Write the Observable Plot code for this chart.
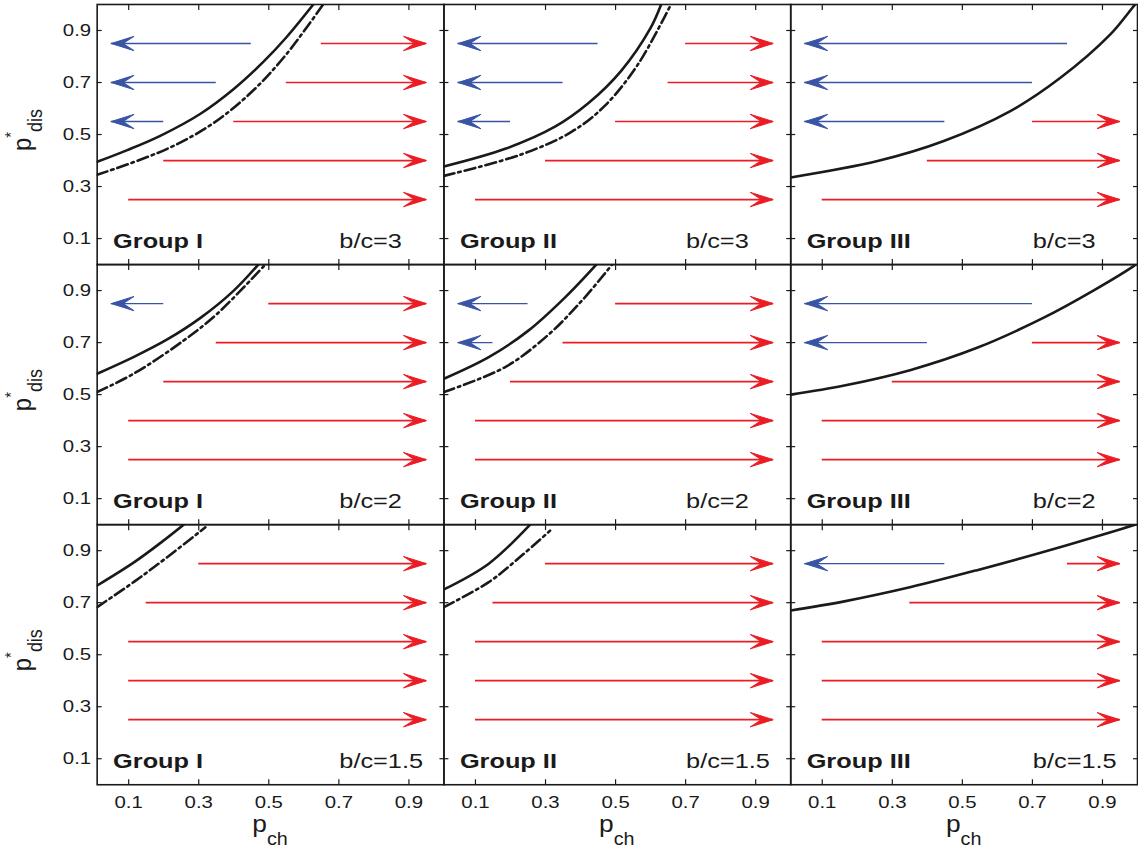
<!DOCTYPE html>
<html>
<head>
<meta charset="utf-8">
<script src="https://cdn.jsdelivr.net/npm/d3@7"></script>
<script src="https://cdn.jsdelivr.net/npm/@observablehq/plot@0.6"></script>
<style>
html, body { margin: 0; padding: 0; background: #fff; overflow: hidden; }
#chart { width: 1138px; height: 851px; overflow: hidden; position: relative; }
#chart svg { display: block; }
</style>
</head>
<body>
<div id="chart"></div>
<script>
// ---------- categories & ticks ----------
const groups = ["Group I", "Group II", "Group III"];
const ratios = ["b/c=3", "b/c=2", "b/c=1.5"];
const xTicks = [0.1, 0.3, 0.5, 0.7, 0.9];
const yTicks = [0.1, 0.3, 0.5, 0.7, 0.9];

// arrow tips (p_ch)
const redTip = 0.95;
const blueTip = 0.05;

// ---------- boundary curves [p_ch, p_dis*] ----------
const solid_I_3   = [[0.01,0.395],[0.096,0.44],[0.19,0.495],[0.305,0.58],[0.40,0.675],[0.485,0.78],[0.551,0.875],[0.627,1.0]];
const dashed_I_3  = [[0.01,0.345],[0.21,0.445],[0.343,0.545],[0.456,0.67],[0.551,0.81],[0.655,1.0]];
const solid_II_3  = [[0.01,0.377],[0.185,0.445],[0.327,0.53],[0.422,0.62],[0.516,0.745],[0.60,0.91],[0.63,1.0]];
const dashed_II_3 = [[0.01,0.341],[0.232,0.424],[0.374,0.51],[0.469,0.61],[0.564,0.77],[0.658,1.0]];
const solid_III_3 = [[0.01,0.335],[0.258,0.398],[0.447,0.475],[0.637,0.59],[0.779,0.717],[0.921,0.883],[0.99,0.995],[1.0,1.01]];

const solid_I_2   = [[0.01,0.58],[0.115,0.645],[0.21,0.712],[0.305,0.795],[0.40,0.90],[0.47,1.0]];
const dashed_I_2  = [[0.01,0.51],[0.115,0.581],[0.257,0.708],[0.352,0.81],[0.49,1.0]];
const solid_II_2  = [[0.01,0.561],[0.138,0.644],[0.251,0.746],[0.356,0.874],[0.445,1.0]];
const dashed_II_2 = [[0.01,0.51],[0.185,0.606],[0.308,0.73],[0.403,0.86],[0.49,1.0]];
const solid_III_2 = [[0.01,0.50],[0.163,0.535],[0.353,0.595],[0.542,0.68],[0.731,0.795],[0.874,0.90],[0.99,0.995],[1.0,1.005]];

const solid_I_15   = [[0.01,0.766],[0.115,0.855],[0.191,0.93],[0.257,1.0]];
const dashed_I_15  = [[0.01,0.683],[0.115,0.78],[0.21,0.875],[0.319,0.99]];
const solid_II_15  = [[0.01,0.751],[0.138,0.85],[0.256,1.0]];
const dashed_II_15 = [[0.01,0.683],[0.138,0.779],[0.232,0.881],[0.313,0.977]];
const solid_III_15 = [[0.01,0.67],[0.163,0.705],[0.353,0.76],[0.542,0.825],[0.731,0.895],[0.921,0.97],[1.0,1.003]];

const curves = [
  {group: "Group I",   ratio: "b/c=3",   style: "solid",   pts: solid_I_3},
  {group: "Group I",   ratio: "b/c=3",   style: "dashdot", pts: dashed_I_3},
  {group: "Group II",  ratio: "b/c=3",   style: "solid",   pts: solid_II_3},
  {group: "Group II",  ratio: "b/c=3",   style: "dashdot", pts: dashed_II_3},
  {group: "Group III", ratio: "b/c=3",   style: "solid",   pts: solid_III_3},
  {group: "Group I",   ratio: "b/c=2",   style: "solid",   pts: solid_I_2},
  {group: "Group I",   ratio: "b/c=2",   style: "dashdot", pts: dashed_I_2},
  {group: "Group II",  ratio: "b/c=2",   style: "solid",   pts: solid_II_2},
  {group: "Group II",  ratio: "b/c=2",   style: "dashdot", pts: dashed_II_2},
  {group: "Group III", ratio: "b/c=2",   style: "solid",   pts: solid_III_2},
  {group: "Group I",   ratio: "b/c=1.5", style: "solid",   pts: solid_I_15},
  {group: "Group I",   ratio: "b/c=1.5", style: "dashdot", pts: dashed_I_15},
  {group: "Group II",  ratio: "b/c=1.5", style: "solid",   pts: solid_II_15},
  {group: "Group II",  ratio: "b/c=1.5", style: "dashdot", pts: dashed_II_15},
  {group: "Group III", ratio: "b/c=1.5", style: "solid",   pts: solid_III_15}
];

// ---------- arrows: [group, ratio, p_dis level, start p_ch] ----------
const redArrows = [
  ["Group I","b/c=3",0.85,0.65], ["Group I","b/c=3",0.70,0.55], ["Group I","b/c=3",0.55,0.40], ["Group I","b/c=3",0.40,0.20], ["Group I","b/c=3",0.25,0.10],
  ["Group II","b/c=3",0.85,0.70], ["Group II","b/c=3",0.70,0.65], ["Group II","b/c=3",0.55,0.50], ["Group II","b/c=3",0.40,0.30], ["Group II","b/c=3",0.25,0.10],
  ["Group III","b/c=3",0.55,0.70], ["Group III","b/c=3",0.40,0.40], ["Group III","b/c=3",0.25,0.10],
  ["Group I","b/c=2",0.85,0.50], ["Group I","b/c=2",0.70,0.35], ["Group I","b/c=2",0.55,0.20], ["Group I","b/c=2",0.40,0.10], ["Group I","b/c=2",0.25,0.10],
  ["Group II","b/c=2",0.85,0.50], ["Group II","b/c=2",0.70,0.35], ["Group II","b/c=2",0.55,0.20], ["Group II","b/c=2",0.40,0.10], ["Group II","b/c=2",0.25,0.10],
  ["Group III","b/c=2",0.70,0.70], ["Group III","b/c=2",0.55,0.30], ["Group III","b/c=2",0.40,0.10], ["Group III","b/c=2",0.25,0.10],
  ["Group I","b/c=1.5",0.85,0.30], ["Group I","b/c=1.5",0.70,0.15], ["Group I","b/c=1.5",0.55,0.10], ["Group I","b/c=1.5",0.40,0.10], ["Group I","b/c=1.5",0.25,0.10],
  ["Group II","b/c=1.5",0.85,0.30], ["Group II","b/c=1.5",0.70,0.15], ["Group II","b/c=1.5",0.55,0.10], ["Group II","b/c=1.5",0.40,0.10], ["Group II","b/c=1.5",0.25,0.10],
  ["Group III","b/c=1.5",0.85,0.80], ["Group III","b/c=1.5",0.70,0.35], ["Group III","b/c=1.5",0.55,0.10], ["Group III","b/c=1.5",0.40,0.10], ["Group III","b/c=1.5",0.25,0.10]
];
const blueArrows = [
  ["Group I","b/c=3",0.85,0.45], ["Group I","b/c=3",0.70,0.35], ["Group I","b/c=3",0.55,0.20],
  ["Group II","b/c=3",0.85,0.45], ["Group II","b/c=3",0.70,0.35], ["Group II","b/c=3",0.55,0.20],
  ["Group III","b/c=3",0.85,0.80], ["Group III","b/c=3",0.70,0.70], ["Group III","b/c=3",0.55,0.45],
  ["Group I","b/c=2",0.85,0.20],
  ["Group II","b/c=2",0.85,0.25], ["Group II","b/c=2",0.70,0.15],
  ["Group III","b/c=2",0.85,0.70], ["Group III","b/c=2",0.70,0.40],
  ["Group III","b/c=1.5",0.85,0.45]
];

// ---------- build tables ----------
const curveRows = curves.flatMap((c, i) => c.pts.map(([x, y]) => ({id: i, group: c.group, ratio: c.ratio, style: c.style, x, y})));
const reds = redArrows.map(([group, ratio, y, x1]) => ({group, ratio, y, x1, x2: redTip}));
const blues = blueArrows.map(([group, ratio, y, x1]) => ({group, ratio, y, x1, x2: blueTip}));
const panels = ratios.flatMap(r => groups.map(g => ({group: g, ratio: r})));

const RED = "#ec1c24", BLUE = "#3953a5", INK = "#1a1a1a";
const headRight = {draw(ctx) { ctx.moveTo(0, 0); ctx.lineTo(-23, -7.2); ctx.lineTo(-12, 0); ctx.lineTo(-23, 7.2); ctx.closePath(); }};
const headLeft  = {draw(ctx) { ctx.moveTo(0, 0); ctx.lineTo(23, -7.2); ctx.lineTo(12, 0); ctx.lineTo(23, 7.2); ctx.closePath(); }};
const fmt = d3.format(".1f");
const F = {fx: "group", fy: "ratio"};

const chart = Plot.plot({
  width: 1142, height: 851,
  marginLeft: 96, marginRight: 1, marginTop: 3, marginBottom: 64,
  x: {domain: [0.01, 1]},
  y: {domain: [0, 1]},
  fx: {domain: groups, padding: 0, axis: null},
  fy: {domain: ratios, padding: 0, axis: null},
  style: {fontFamily: "'Liberation Sans', Arial, Helvetica, sans-serif", background: "#fff", color: INK},
  marks: [
    // arrows
    Plot.ruleY(reds, {...F, y: "y", x1: "x1", x2: "x2", stroke: RED, strokeWidth: 1.7}),
    Plot.dot(reds, {...F, x: "x2", y: "y", symbol: headRight, r: 5, fill: RED, stroke: RED, strokeWidth: 1, strokeLinejoin: "miter"}),
    Plot.ruleY(blues, {...F, y: "y", x1: "x1", x2: "x2", stroke: BLUE, strokeWidth: 1.3}),
    Plot.dot(blues, {...F, x: "x2", y: "y", symbol: headLeft, r: 5, fill: BLUE, stroke: BLUE, strokeWidth: 1, strokeLinejoin: "miter"}),
    // boundary curves
    Plot.line(curveRows.filter(d => d.style === "solid"), {...F, x: "x", y: "y", z: "id", stroke: INK, strokeWidth: 2.6, curve: "catmull-rom", clip: true}),
    Plot.line(curveRows.filter(d => d.style === "dashdot"), {...F, x: "x", y: "y", z: "id", stroke: INK, strokeWidth: 2.6, strokeDasharray: "11,4,2.5,4", curve: "catmull-rom", clip: true}),
    // panel labels
    Plot.text(panels, {...F, text: "group", frameAnchor: "bottom-left", textAnchor: "start", lineAnchor: "bottom", dx: 16, dy: -16.5, fontWeight: "bold", fontSize: 20.5, fill: INK}),
    Plot.text(panels, {...F, text: "ratio", frameAnchor: "bottom-left", textAnchor: "start", lineAnchor: "bottom", dx: 243, dy: -16.5, fontSize: 20.5, fill: INK}),
    // inward ticks on all four sides
    Plot.axisX({ticks: xTicks, anchor: "bottom", tickSize: 5, dy: -5, fill: "none", label: null, facetAnchor: null, stroke: INK, strokeWidth: 1.2}),
    Plot.axisX({ticks: xTicks, anchor: "top", tickSize: 5, dy: 5, fill: "none", label: null, facetAnchor: null, stroke: INK, strokeWidth: 1.2}),
    Plot.axisY({ticks: yTicks, anchor: "left", tickSize: 5, dx: 5, fill: "none", label: null, facetAnchor: null, stroke: INK, strokeWidth: 1.2}),
    Plot.axisY({ticks: yTicks, anchor: "right", tickSize: 5, dx: -5, fill: "none", label: null, facetAnchor: null, stroke: INK, strokeWidth: 1.2}),
    // tick labels
    Plot.axisX({ticks: xTicks, anchor: "bottom", tickSize: 0, tickPadding: 12, tickFormat: fmt, label: null, fontSize: 16.5, fill: INK}),
    Plot.axisY({ticks: yTicks, anchor: "left", tickSize: 0, tickPadding: 6, tickFormat: fmt, label: null, fontSize: 16.5, fill: INK}),
    Plot.frame({stroke: INK, strokeWidth: 1.6})
  ]
});

// horizontal stretch of the text, as in the reference
chart.querySelectorAll("text").forEach(t => {
  const x = +t.getAttribute("x") || 0;
  const tr = t.getAttribute("transform") || "";
  t.removeAttribute("x");
  t.setAttribute("transform", `${tr} translate(${x},0) scale(1.24,1)`);
});

// axis titles
const svg = d3.select(chart);
let fxS, fyS;
try { fxS = chart.scale("fx"); fyS = chart.scale("fy"); } catch (e) {}
const colW = (1142 - 96 - 1) / 3, rowH = (851 - 3 - 64) / 3;
const colCenter = g => fxS && fxS.apply ? fxS.apply(g) + fxS.bandwidth / 2 : 96 + colW * (groups.indexOf(g) + 0.5);
const rowCenter = r => fyS && fyS.apply ? fyS.apply(r) + fyS.bandwidth / 2 : 3 + rowH * (ratios.indexOf(r) + 0.5);

groups.forEach(g => {
  const t = svg.append("text")
    .attr("transform", `translate(${colCenter(g)},835) scale(1.1,1)`)
    .attr("text-anchor", "middle")
    .attr("fill", INK)
    .attr("font-family", "'Liberation Sans', Arial, sans-serif");
  t.append("tspan").attr("font-size", 24).text("p");
  t.append("tspan").attr("font-size", 18).attr("dy", 13).text("ch");
});
ratios.forEach(r => {
  const t = svg.append("text")
    .attr("transform", `translate(31,${rowCenter(r) - 4}) rotate(-90) scale(1,1.1)`)
    .attr("text-anchor", "middle")
    .attr("fill", INK)
    .attr("font-family", "'Liberation Sans', Arial, sans-serif");
  t.append("tspan").attr("font-size", 24).text("p");
  t.append("tspan").attr("font-size", 15).attr("dy", -12.5).text("*");
  t.append("tspan").attr("font-size", 18).attr("dy", 23).text("dis");
});

document.getElementById("chart").append(chart);
</script>
</body>
</html>
